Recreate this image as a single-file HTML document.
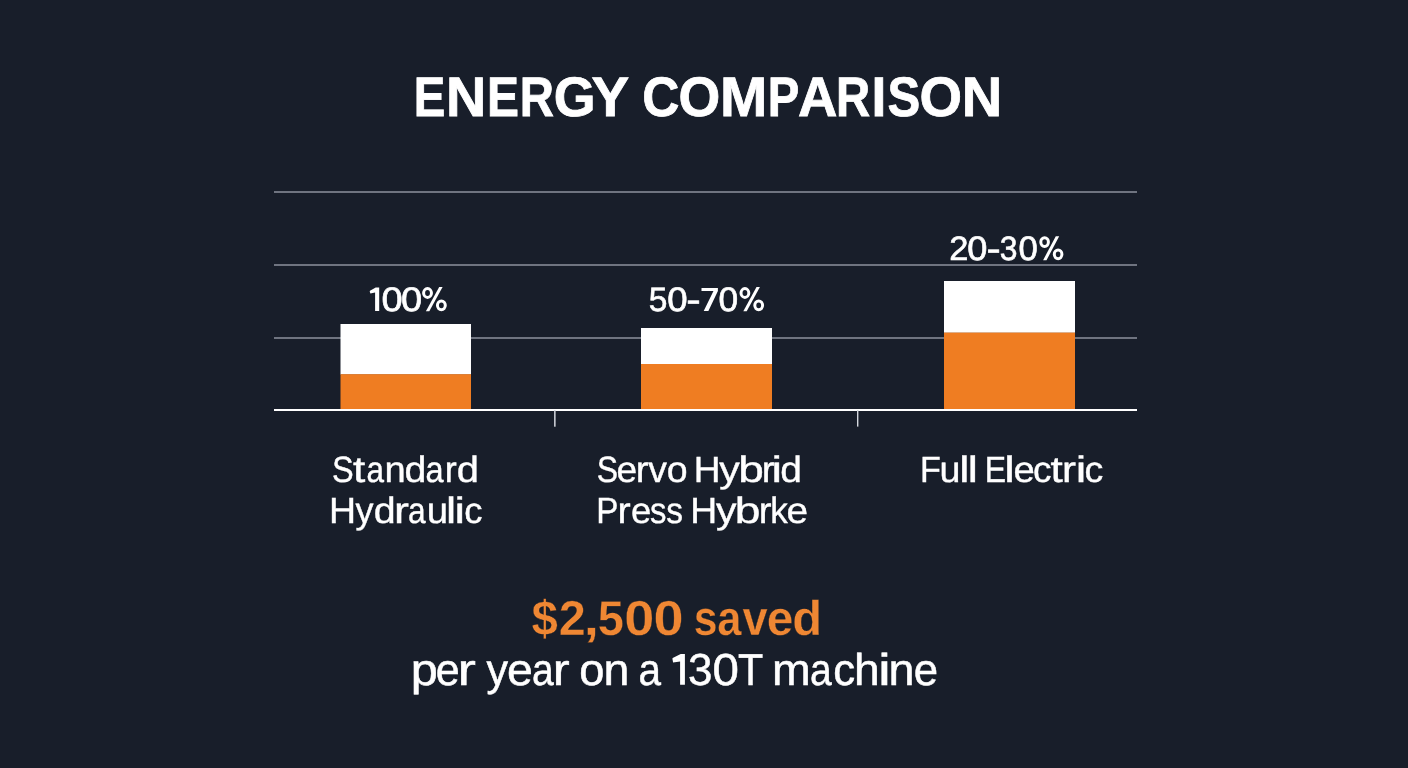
<!DOCTYPE html>
<html>
<head>
<meta charset="utf-8">
<style>
html,body{margin:0;padding:0;background:#181e2a;width:1408px;height:768px;overflow:hidden;}
svg{display:block;will-change:transform;}
text{font-family:"Liberation Sans",sans-serif;fill:#ffffff;text-rendering:geometricPrecision;}
</style>
</head>
<body>
<svg width="1408" height="768" viewBox="0 0 1408 768">
<rect x="0" y="0" width="1408" height="768" fill="#181e2a"/>
<g fill="#6f7480">
<rect x="274" y="191" width="863" height="2"/>
<rect x="274" y="264" width="863" height="2"/>
<rect x="274" y="337" width="863" height="2"/>
</g>
<rect x="340.5" y="324" width="130.5" height="50.5" fill="#ffffff"/>
<rect x="340.5" y="374.2" width="130.5" height="35" fill="#ef7d22"/>
<rect x="641" y="328" width="131" height="36" fill="#ffffff"/>
<rect x="641" y="364" width="131" height="45.5" fill="#ef7d22"/>
<rect x="944" y="281" width="131" height="51.8" fill="#ffffff"/>
<rect x="944" y="332.6" width="131" height="77" fill="#ef7d22"/>
<rect x="274" y="409" width="863" height="2" fill="#ffffff"/>
<rect x="554.1" y="410" width="1.5" height="16.7" fill="#d4d8de"/>
<rect x="857" y="410" width="1.4" height="16.6" fill="#d4d8de"/>
<text x="413.70" y="116.10" font-size="55.7" textLength="31.58" lengthAdjust="spacingAndGlyphs" font-weight="bold" stroke="#ffffff" stroke-width="0.8">E</text>
<text x="445.88" y="116.10" font-size="55.7" textLength="40.17" lengthAdjust="spacingAndGlyphs" font-weight="bold" stroke="#ffffff" stroke-width="0.8">N</text>
<text x="486.89" y="116.10" font-size="55.7" textLength="31.98" lengthAdjust="spacingAndGlyphs" font-weight="bold" stroke="#ffffff" stroke-width="0.8">E</text>
<text x="519.81" y="116.10" font-size="55.7" textLength="34.19" lengthAdjust="spacingAndGlyphs" font-weight="bold" stroke="#ffffff" stroke-width="0.8">R</text>
<text x="553.69" y="116.10" font-size="55.7" textLength="41.84" lengthAdjust="spacingAndGlyphs" font-weight="bold" stroke="#ffffff" stroke-width="0.8">G</text>
<text x="591.63" y="116.10" font-size="55.7" textLength="37.68" lengthAdjust="spacingAndGlyphs" font-weight="bold" stroke="#ffffff" stroke-width="0.8">Y</text>
<text x="642.19" y="116.10" font-size="55.7" textLength="37.11" lengthAdjust="spacingAndGlyphs" font-weight="bold" stroke="#ffffff" stroke-width="0.8">C</text>
<text x="678.50" y="116.10" font-size="55.7" textLength="41.76" lengthAdjust="spacingAndGlyphs" font-weight="bold" stroke="#ffffff" stroke-width="0.8">O</text>
<text x="720.00" y="116.10" font-size="55.7" textLength="47.30" lengthAdjust="spacingAndGlyphs" font-weight="bold" stroke="#ffffff" stroke-width="0.8">M</text>
<text x="767.64" y="116.10" font-size="55.7" textLength="31.58" lengthAdjust="spacingAndGlyphs" font-weight="bold" stroke="#ffffff" stroke-width="0.8">P</text>
<text x="797.94" y="116.10" font-size="55.7" textLength="39.40" lengthAdjust="spacingAndGlyphs" font-weight="bold" stroke="#ffffff" stroke-width="0.8">A</text>
<text x="836.11" y="116.10" font-size="55.7" textLength="34.19" lengthAdjust="spacingAndGlyphs" font-weight="bold" stroke="#ffffff" stroke-width="0.8">R</text>
<text x="871.62" y="116.10" font-size="55.7" textLength="14.85" lengthAdjust="spacingAndGlyphs" font-weight="bold" stroke="#ffffff" stroke-width="0.8">I</text>
<text x="887.39" y="116.10" font-size="55.7" textLength="32.73" lengthAdjust="spacingAndGlyphs" font-weight="bold" stroke="#ffffff" stroke-width="0.8">S</text>
<text x="919.46" y="116.10" font-size="55.7" textLength="42.54" lengthAdjust="spacingAndGlyphs" font-weight="bold" stroke="#ffffff" stroke-width="0.8">O</text>
<text x="961.86" y="116.10" font-size="55.7" textLength="40.41" lengthAdjust="spacingAndGlyphs" font-weight="bold" stroke="#ffffff" stroke-width="0.8">N</text>
<path d="M379.20 287.60 L379.20 310.90 L375.10 310.90 L375.10 292.40 L370.40 293.60 L369.70 291.40 L370.00 290.80 L375.70 287.60 Z" fill="#ffffff"/>
<ellipse cx="427.53" cy="293.00" rx="3.93" ry="4.40" fill="none" stroke="#ffffff" stroke-width="3.0"/>
<ellipse cx="441.37" cy="305.30" rx="3.93" ry="4.40" fill="none" stroke="#ffffff" stroke-width="3.0"/>
<path d="M439.20 287.10 L442.60 287.10 L429.30 311.20 L425.90 311.20 Z" fill="#ffffff"/>
<text x="381.51" y="310.90" font-size="33.8" textLength="21.17" lengthAdjust="spacingAndGlyphs" stroke="#ffffff" stroke-width="0.6">0</text>
<text x="400.91" y="310.90" font-size="33.8" textLength="21.17" lengthAdjust="spacingAndGlyphs" stroke="#ffffff" stroke-width="0.6">0</text>
<path d="M701.50 287.90 L717.90 287.90 L717.90 290.96 L708.39 310.90 L703.71 310.90 L713.47 291.12 L701.50 291.12 Z" fill="#ffffff"/>
<ellipse cx="744.91" cy="293.00" rx="3.91" ry="4.40" fill="none" stroke="#ffffff" stroke-width="3.0"/>
<ellipse cx="758.69" cy="305.30" rx="3.91" ry="4.40" fill="none" stroke="#ffffff" stroke-width="3.0"/>
<path d="M756.50 287.10 L759.90 287.10 L746.70 311.20 L743.30 311.20 Z" fill="#ffffff"/>
<text x="648.66" y="310.90" font-size="33.8" textLength="18.65" lengthAdjust="spacingAndGlyphs" stroke="#ffffff" stroke-width="0.6">5</text>
<text x="667.37" y="310.90" font-size="33.8" textLength="20.36" lengthAdjust="spacingAndGlyphs" stroke="#ffffff" stroke-width="0.6">0</text>
<text x="686.37" y="310.90" font-size="33.8" textLength="14.46" lengthAdjust="spacingAndGlyphs" stroke="#ffffff" stroke-width="0.6">-</text>
<text x="718.52" y="310.90" font-size="33.8" textLength="19.66" lengthAdjust="spacingAndGlyphs" stroke="#ffffff" stroke-width="0.6">0</text>
<ellipse cx="1044.60" cy="242.08" rx="3.80" ry="4.38" fill="none" stroke="#ffffff" stroke-width="3.0"/>
<ellipse cx="1058.10" cy="254.32" rx="3.80" ry="4.38" fill="none" stroke="#ffffff" stroke-width="3.0"/>
<path d="M1055.80 236.20 L1059.20 236.20 L1046.50 260.20 L1043.10 260.20 Z" fill="#ffffff"/>
<text x="949.37" y="259.80" font-size="33.8" textLength="19.17" lengthAdjust="spacingAndGlyphs" stroke="#ffffff" stroke-width="0.6">2</text>
<text x="967.39" y="259.80" font-size="33.8" textLength="20.13" lengthAdjust="spacingAndGlyphs" stroke="#ffffff" stroke-width="0.6">0</text>
<text x="986.61" y="259.80" font-size="33.8" textLength="14.19" lengthAdjust="spacingAndGlyphs" stroke="#ffffff" stroke-width="0.6">-</text>
<text x="999.79" y="259.80" font-size="33.8" textLength="17.71" lengthAdjust="spacingAndGlyphs" stroke="#ffffff" stroke-width="0.6">3</text>
<text x="1018.54" y="259.80" font-size="33.8" textLength="19.31" lengthAdjust="spacingAndGlyphs" stroke="#ffffff" stroke-width="0.6">0</text>
<text x="331.92" y="482.00" font-size="36.5" textLength="21.67" lengthAdjust="spacingAndGlyphs" stroke="#ffffff" stroke-width="0.4">S</text>
<text x="352.93" y="482.00" font-size="36.5" textLength="12.29" lengthAdjust="spacingAndGlyphs" stroke="#ffffff" stroke-width="0.4">t</text>
<text x="366.46" y="482.00" font-size="36.5" textLength="17.54" lengthAdjust="spacingAndGlyphs" stroke="#ffffff" stroke-width="0.4">a</text>
<text x="384.57" y="482.00" font-size="36.5" textLength="21.21" lengthAdjust="spacingAndGlyphs" stroke="#ffffff" stroke-width="0.4">n</text>
<text x="404.60" y="482.00" font-size="36.5" textLength="21.83" lengthAdjust="spacingAndGlyphs" stroke="#ffffff" stroke-width="0.4">d</text>
<text x="425.61" y="482.00" font-size="36.5" textLength="18.14" lengthAdjust="spacingAndGlyphs" stroke="#ffffff" stroke-width="0.4">a</text>
<text x="444.81" y="482.00" font-size="36.5" textLength="11.99" lengthAdjust="spacingAndGlyphs" stroke="#ffffff" stroke-width="0.4">r</text>
<text x="456.83" y="482.00" font-size="36.5" textLength="22.14" lengthAdjust="spacingAndGlyphs" stroke="#ffffff" stroke-width="0.4">d</text>
<text x="328.93" y="523.40" font-size="36.5" textLength="27.02" lengthAdjust="spacingAndGlyphs" stroke="#ffffff" stroke-width="0.4">H</text>
<text x="355.41" y="523.40" font-size="36.5" textLength="17.96" lengthAdjust="spacingAndGlyphs" stroke="#ffffff" stroke-width="0.4">y</text>
<text x="373.65" y="523.40" font-size="36.5" textLength="21.89" lengthAdjust="spacingAndGlyphs" stroke="#ffffff" stroke-width="0.4">d</text>
<text x="393.92" y="523.40" font-size="36.5" textLength="14.92" lengthAdjust="spacingAndGlyphs" stroke="#ffffff" stroke-width="0.4">r</text>
<text x="408.05" y="523.40" font-size="36.5" textLength="17.65" lengthAdjust="spacingAndGlyphs" stroke="#ffffff" stroke-width="0.4">a</text>
<text x="426.81" y="523.40" font-size="36.5" textLength="21.34" lengthAdjust="spacingAndGlyphs" stroke="#ffffff" stroke-width="0.4">u</text>
<text x="446.13" y="523.40" font-size="36.5" textLength="10.11" lengthAdjust="spacingAndGlyphs" stroke="#ffffff" stroke-width="0.4">l</text>
<text x="454.44" y="523.40" font-size="36.5" textLength="10.54" lengthAdjust="spacingAndGlyphs" stroke="#ffffff" stroke-width="0.4">i</text>
<text x="464.35" y="523.40" font-size="36.5" textLength="18.21" lengthAdjust="spacingAndGlyphs" stroke="#ffffff" stroke-width="0.4">c</text>
<text x="596.65" y="481.80" font-size="36.5" textLength="21.32" lengthAdjust="spacingAndGlyphs" stroke="#ffffff" stroke-width="0.4">S</text>
<text x="616.62" y="481.80" font-size="36.5" textLength="20.62" lengthAdjust="spacingAndGlyphs" stroke="#ffffff" stroke-width="0.4">e</text>
<text x="635.75" y="481.80" font-size="36.5" textLength="12.79" lengthAdjust="spacingAndGlyphs" stroke="#ffffff" stroke-width="0.4">r</text>
<text x="648.37" y="481.80" font-size="36.5" textLength="18.66" lengthAdjust="spacingAndGlyphs" stroke="#ffffff" stroke-width="0.4">v</text>
<text x="666.73" y="481.80" font-size="36.5" textLength="20.85" lengthAdjust="spacingAndGlyphs" stroke="#ffffff" stroke-width="0.4">o</text>
<text x="693.76" y="481.80" font-size="36.5" textLength="26.76" lengthAdjust="spacingAndGlyphs" stroke="#ffffff" stroke-width="0.4">H</text>
<text x="719.30" y="481.80" font-size="36.5" textLength="20.48" lengthAdjust="spacingAndGlyphs" stroke="#ffffff" stroke-width="0.4">y</text>
<text x="738.33" y="481.80" font-size="36.5" textLength="25.60" lengthAdjust="spacingAndGlyphs" stroke="#ffffff" stroke-width="0.4">b</text>
<text x="761.85" y="481.80" font-size="36.5" textLength="12.79" lengthAdjust="spacingAndGlyphs" stroke="#ffffff" stroke-width="0.4">r</text>
<text x="771.64" y="481.80" font-size="36.5" textLength="10.54" lengthAdjust="spacingAndGlyphs" stroke="#ffffff" stroke-width="0.4">i</text>
<text x="780.27" y="481.80" font-size="36.5" textLength="21.64" lengthAdjust="spacingAndGlyphs" stroke="#ffffff" stroke-width="0.4">d</text>
<text x="596.37" y="522.90" font-size="36.5" textLength="22.18" lengthAdjust="spacingAndGlyphs" stroke="#ffffff" stroke-width="0.4">P</text>
<text x="617.57" y="522.90" font-size="36.5" textLength="13.19" lengthAdjust="spacingAndGlyphs" stroke="#ffffff" stroke-width="0.4">r</text>
<text x="630.95" y="522.90" font-size="36.5" textLength="20.27" lengthAdjust="spacingAndGlyphs" stroke="#ffffff" stroke-width="0.4">e</text>
<text x="649.99" y="522.90" font-size="36.5" textLength="16.40" lengthAdjust="spacingAndGlyphs" stroke="#ffffff" stroke-width="0.4">s</text>
<text x="666.37" y="522.90" font-size="36.5" textLength="16.74" lengthAdjust="spacingAndGlyphs" stroke="#ffffff" stroke-width="0.4">s</text>
<text x="690.15" y="522.90" font-size="36.5" textLength="26.89" lengthAdjust="spacingAndGlyphs" stroke="#ffffff" stroke-width="0.4">H</text>
<text x="716.10" y="522.90" font-size="36.5" textLength="20.48" lengthAdjust="spacingAndGlyphs" stroke="#ffffff" stroke-width="0.4">y</text>
<text x="734.82" y="522.90" font-size="36.5" textLength="25.72" lengthAdjust="spacingAndGlyphs" stroke="#ffffff" stroke-width="0.4">b</text>
<text x="758.65" y="522.90" font-size="36.5" textLength="12.79" lengthAdjust="spacingAndGlyphs" stroke="#ffffff" stroke-width="0.4">r</text>
<text x="770.14" y="522.90" font-size="36.5" textLength="17.51" lengthAdjust="spacingAndGlyphs" stroke="#ffffff" stroke-width="0.4">k</text>
<text x="786.45" y="522.90" font-size="36.5" textLength="21.57" lengthAdjust="spacingAndGlyphs" stroke="#ffffff" stroke-width="0.4">e</text>
<text x="920.10" y="481.80" font-size="36.5" textLength="20.87" lengthAdjust="spacingAndGlyphs" stroke="#ffffff" stroke-width="0.4">F</text>
<text x="939.45" y="481.80" font-size="36.5" textLength="20.95" lengthAdjust="spacingAndGlyphs" stroke="#ffffff" stroke-width="0.4">u</text>
<text x="959.33" y="481.80" font-size="36.5" textLength="10.11" lengthAdjust="spacingAndGlyphs" stroke="#ffffff" stroke-width="0.4">l</text>
<text x="967.83" y="481.80" font-size="36.5" textLength="10.11" lengthAdjust="spacingAndGlyphs" stroke="#ffffff" stroke-width="0.4">l</text>
<text x="984.68" y="481.80" font-size="36.5" textLength="21.29" lengthAdjust="spacingAndGlyphs" stroke="#ffffff" stroke-width="0.4">E</text>
<text x="1004.32" y="481.80" font-size="36.5" textLength="10.54" lengthAdjust="spacingAndGlyphs" stroke="#ffffff" stroke-width="0.4">l</text>
<text x="1013.47" y="481.80" font-size="36.5" textLength="21.33" lengthAdjust="spacingAndGlyphs" stroke="#ffffff" stroke-width="0.4">e</text>
<text x="1033.03" y="481.80" font-size="36.5" textLength="18.44" lengthAdjust="spacingAndGlyphs" stroke="#ffffff" stroke-width="0.4">c</text>
<text x="1050.53" y="481.80" font-size="36.5" textLength="12.29" lengthAdjust="spacingAndGlyphs" stroke="#ffffff" stroke-width="0.4">t</text>
<text x="1062.01" y="481.80" font-size="36.5" textLength="13.99" lengthAdjust="spacingAndGlyphs" stroke="#ffffff" stroke-width="0.4">r</text>
<text x="1075.69" y="481.80" font-size="36.5" textLength="10.54" lengthAdjust="spacingAndGlyphs" stroke="#ffffff" stroke-width="0.4">i</text>
<text x="1084.60" y="481.80" font-size="36.5" textLength="18.79" lengthAdjust="spacingAndGlyphs" stroke="#ffffff" stroke-width="0.4">c</text>
<text x="531.58" y="635.30" font-size="49" textLength="26.35" lengthAdjust="spacingAndGlyphs" font-weight="bold" style="fill:#ef8733" stroke="#181e2a" stroke-width="0.35">$</text>
<text x="558.82" y="635.30" font-size="49" textLength="27.03" lengthAdjust="spacingAndGlyphs" font-weight="bold" style="fill:#ef8733" stroke="#181e2a" stroke-width="0.35">2</text>
<text x="583.80" y="635.30" font-size="49" textLength="15.15" lengthAdjust="spacingAndGlyphs" font-weight="bold" style="fill:#ef8733" stroke="#181e2a" stroke-width="0.35">,</text>
<text x="597.85" y="635.30" font-size="49" textLength="26.16" lengthAdjust="spacingAndGlyphs" font-weight="bold" style="fill:#ef8733" stroke="#181e2a" stroke-width="0.35">5</text>
<text x="624.16" y="635.30" font-size="49" textLength="30.05" lengthAdjust="spacingAndGlyphs" font-weight="bold" style="fill:#ef8733" stroke="#181e2a" stroke-width="0.35">0</text>
<text x="653.46" y="635.30" font-size="49" textLength="30.05" lengthAdjust="spacingAndGlyphs" font-weight="bold" style="fill:#ef8733" stroke="#181e2a" stroke-width="0.35">0</text>
<text x="693.70" y="635.30" font-size="49" textLength="23.75" lengthAdjust="spacingAndGlyphs" font-weight="bold" style="fill:#ef8733" stroke="#181e2a" stroke-width="0.35">s</text>
<text x="717.33" y="635.30" font-size="49" textLength="24.20" lengthAdjust="spacingAndGlyphs" font-weight="bold" style="fill:#ef8733" stroke="#181e2a" stroke-width="0.35">a</text>
<text x="742.52" y="635.30" font-size="49" textLength="25.18" lengthAdjust="spacingAndGlyphs" font-weight="bold" style="fill:#ef8733" stroke="#181e2a" stroke-width="0.35">v</text>
<text x="766.63" y="635.30" font-size="49" textLength="26.60" lengthAdjust="spacingAndGlyphs" font-weight="bold" style="fill:#ef8733" stroke="#181e2a" stroke-width="0.35">e</text>
<text x="792.19" y="635.30" font-size="49" textLength="29.94" lengthAdjust="spacingAndGlyphs" font-weight="bold" style="fill:#ef8733" stroke="#181e2a" stroke-width="0.35">d</text>
<text x="410.86" y="684.80" font-size="44.6" textLength="27.08" lengthAdjust="spacingAndGlyphs" stroke="#ffffff" stroke-width="0.5">p</text>
<text x="435.77" y="684.80" font-size="44.6" textLength="23.94" lengthAdjust="spacingAndGlyphs" stroke="#ffffff" stroke-width="0.5">e</text>
<text x="457.53" y="684.80" font-size="44.6" textLength="18.38" lengthAdjust="spacingAndGlyphs" stroke="#ffffff" stroke-width="0.5">r</text>
<text x="486.40" y="684.80" font-size="44.6" textLength="21.49" lengthAdjust="spacingAndGlyphs" stroke="#ffffff" stroke-width="0.5">y</text>
<text x="507.03" y="684.80" font-size="44.6" textLength="25.84" lengthAdjust="spacingAndGlyphs" stroke="#ffffff" stroke-width="0.5">e</text>
<text x="532.04" y="684.80" font-size="44.6" textLength="21.76" lengthAdjust="spacingAndGlyphs" stroke="#ffffff" stroke-width="0.5">a</text>
<text x="552.73" y="684.80" font-size="44.6" textLength="16.92" lengthAdjust="spacingAndGlyphs" stroke="#ffffff" stroke-width="0.5">r</text>
<text x="579.30" y="684.80" font-size="44.6" textLength="25.21" lengthAdjust="spacingAndGlyphs" stroke="#ffffff" stroke-width="0.5">o</text>
<text x="603.60" y="684.80" font-size="44.6" textLength="25.92" lengthAdjust="spacingAndGlyphs" stroke="#ffffff" stroke-width="0.5">n</text>
<text x="638.38" y="684.80" font-size="44.6" textLength="22.52" lengthAdjust="spacingAndGlyphs" stroke="#ffffff" stroke-width="0.5">a</text>
<text x="688.02" y="684.80" font-size="44.6" textLength="24.52" lengthAdjust="spacingAndGlyphs" stroke="#ffffff" stroke-width="0.5">3</text>
<text x="712.55" y="684.80" font-size="44.6" textLength="26.41" lengthAdjust="spacingAndGlyphs" stroke="#ffffff" stroke-width="0.5">0</text>
<text x="737.97" y="684.80" font-size="44.6" textLength="25.17" lengthAdjust="spacingAndGlyphs" stroke="#ffffff" stroke-width="0.5">T</text>
<text x="772.11" y="684.80" font-size="44.6" textLength="38.76" lengthAdjust="spacingAndGlyphs" stroke="#ffffff" stroke-width="0.5">m</text>
<text x="810.04" y="684.80" font-size="44.6" textLength="21.76" lengthAdjust="spacingAndGlyphs" stroke="#ffffff" stroke-width="0.5">a</text>
<text x="833.24" y="684.80" font-size="44.6" textLength="21.92" lengthAdjust="spacingAndGlyphs" stroke="#ffffff" stroke-width="0.5">c</text>
<text x="854.00" y="684.80" font-size="44.6" textLength="25.71" lengthAdjust="spacingAndGlyphs" stroke="#ffffff" stroke-width="0.5">h</text>
<text x="878.12" y="684.80" font-size="44.6" textLength="12.88" lengthAdjust="spacingAndGlyphs" stroke="#ffffff" stroke-width="0.5">i</text>
<text x="888.59" y="684.80" font-size="44.6" textLength="26.05" lengthAdjust="spacingAndGlyphs" stroke="#ffffff" stroke-width="0.5">n</text>
<text x="913.64" y="684.80" font-size="44.6" textLength="24.30" lengthAdjust="spacingAndGlyphs" stroke="#ffffff" stroke-width="0.5">e</text>
<path d="M684.90 654.00 L684.90 684.80 L680.10 684.80 L680.10 661.40 L673.10 662.60 L672.40 658.70 L672.70 658.10 L680.70 654.00 Z" fill="#ffffff"/>
</svg>
</body>
</html>
